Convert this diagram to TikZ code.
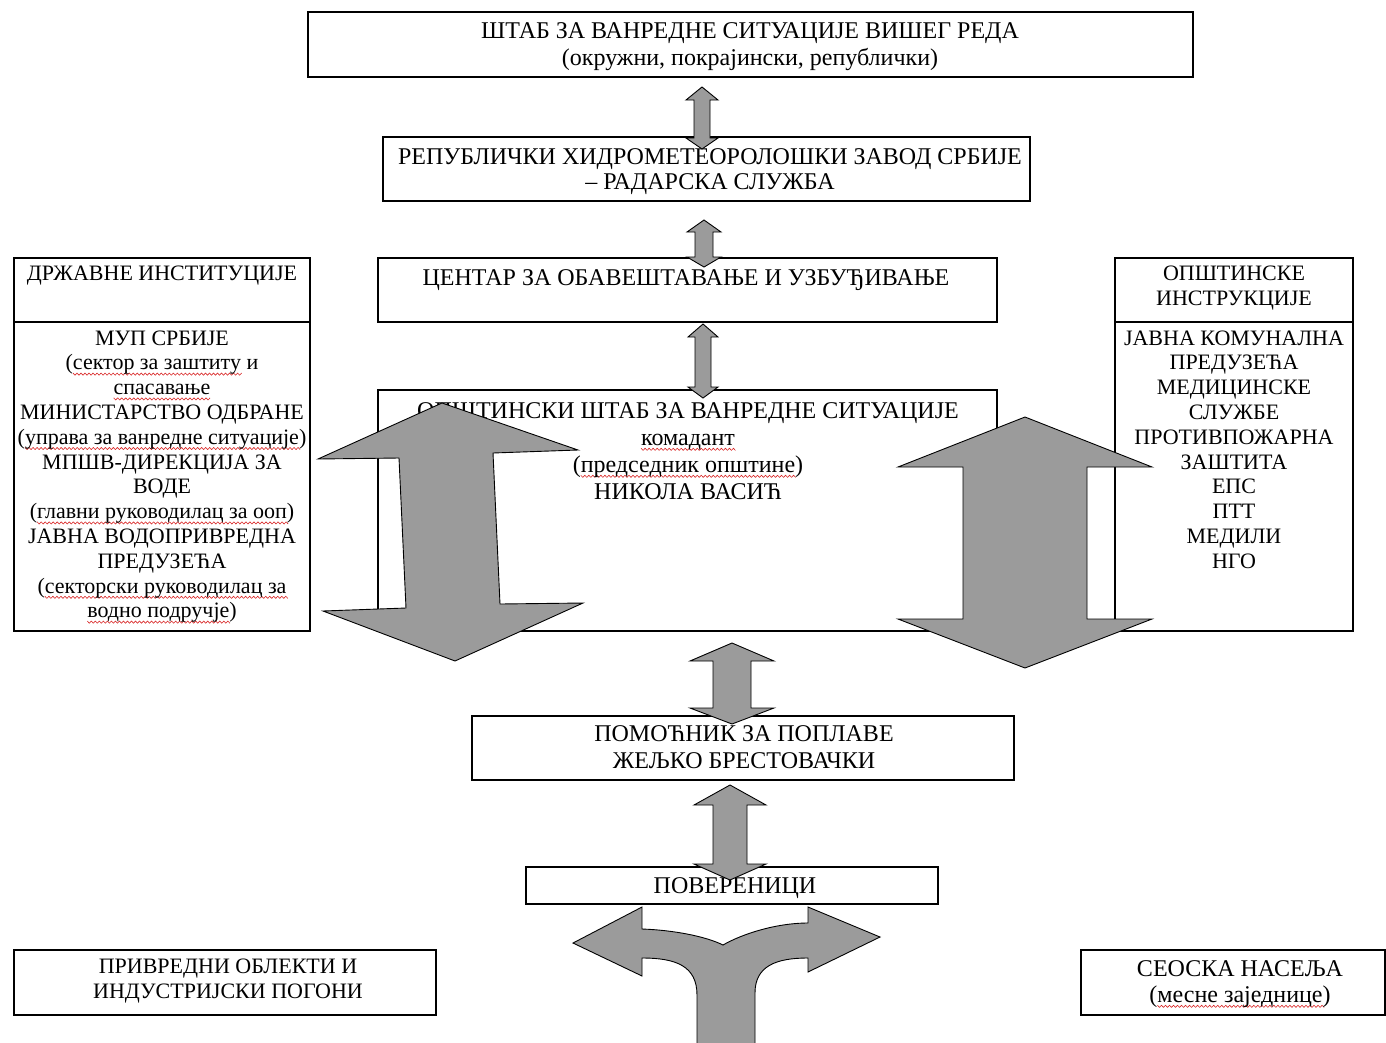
\documentclass[tikz,border=0pt]{standalone}
\usepackage{fontspec}
\setmainfont{Liberation Serif}
\definecolor{arrowgray}{RGB}{155,155,155}
\makeatletter
\newcount\sq@n \newcount\sq@i \newdimen\sq@x
\newcommand\sq[1]{\leavevmode\setbox\z@=\hbox{#1}%
 \sq@n=\numexpr\wd\z@/131072\relax
 \def\sq@path{0 -3.2 m}\sq@x=\z@ \sq@i=\z@
 \loop\ifnum\sq@i<\sq@n \advance\sq@i\@ne \advance\sq@x 2pt
   \edef\sq@path{\sq@path\space\strip@pt\sq@x\space\ifodd\sq@i -5.4\else -3.2\fi\space l}%
 \repeat
 \rlap{\special{pdf:content q 0.85 0.15 0.15 RG 0.6 w 1 j \sq@path\space S Q}}\box\z@\relax}
\makeatother
\newcommand\ml[1]{\begin{tabular}[t]{@{}c@{}}#1\end{tabular}}
\newcommand\vda[7]{%
\draw[blk] (#1,#2) -- ({#1+#4},{#2+#6}) -- ({#1+#5},{#2+#6}) -- ({#1+#5},{#3-#7}) -- ({#1+#4},{#3-#7}) -- (#1,#3) -- ({#1-#4},{#3-#7}) -- ({#1-#5},{#3-#7}) -- ({#1-#5},{#2+#6}) -- ({#1-#4},{#2+#6}) -- cycle;}
\tikzset{
 box/.style={draw=black, line width=1.2pt, inner sep=0pt, outer sep=0pt, anchor=north west},
 txt/.style={inner sep=0pt, anchor=base, font=\fontsize{24}{27}\selectfont},
 stxt/.style={inner sep=0pt, anchor=base, font=\fontsize{22}{24.8}\selectfont},
 blk/.style={draw=black, line width=0.9pt, fill=arrowgray, line join=miter},
}
\begin{document}
\begin{tikzpicture}[x=1pt,y=-1pt]
\useasboundingbox[fill=white] (0,0) rectangle (1386,1042);
% boxes
\node[box, minimum width=885pt, minimum height=65pt] (top) at (308,12) {};
\node[box, minimum width=647pt, minimum height=64pt] (hydro) at (383,137) {};
\node[box, minimum width=619pt, minimum height=64pt] (centar) at (378,258) {};
\node[box, minimum width=619pt, minimum height=241pt] (stab) at (378,390) {};
\node[box, minimum width=296pt, minimum height=373pt] (drz) at (14,258) {};
\node[box, minimum width=238pt, minimum height=373pt] (ops) at (1115,258) {};
\node[box, minimum width=542pt, minimum height=64pt] (pom) at (472,716) {};
\node[box, minimum width=412pt, minimum height=37pt] (pov) at (526,867) {};
\node[box, minimum width=422pt, minimum height=65pt] (priv) at (14,950) {};
\node[box, minimum width=304pt, minimum height=65pt] (seo) at (1081,950) {};
\draw[line width=1.2pt] (14,322) -- (310,322);
\draw[line width=1.2pt] (1115,322) -- (1353,322);
% texts
\node[txt] (toptxt) at (750,38) {\ml{ШТАБ ЗА ВАНРЕДНЕ СИТУАЦИЈЕ ВИШЕГ РЕДА\\(окружни, покрајински, републички)}};
\node[txt] (hydrotxt) at (710,164) {\ml{РЕПУБЛИЧКИ ХИДРОМЕТЕОРОЛОШКИ ЗАВОД СРБИЈЕ\\[-2pt]– РАДАРСКА СЛУЖБА}};
\node[txt] (centartxt) at (686,285) {ЦЕНТАР ЗА ОБАВЕШТАВАЊЕ И УЗБУЂИВАЊЕ};
\node[txt] (stabtxt) at (688,418) {\ml{ОПШТИНСКИ ШТАБ ЗА ВАНРЕДНЕ СИТУАЦИЈЕ\\\sq{комадант}\\(\sq{председник општине})\\НИКОЛА ВАСИЋ}};
\node[stxt] (drztitle) at (162,280) {ДРЖАВНЕ ИНСТИТУЦИЈЕ};
\node[stxt] (drztxt) at (162,345) {\ml{МУП СРБИЈЕ\\(\sq{сектор за заштиту} и\\\sq{спасавање}\\МИНИСТАРСТВО ОДБРАНЕ\\(\sq{управа за ванредне ситуације})\\МПШВ-ДИРЕКЦИЈА ЗА\\ВОДЕ\\(\sq{главни руководилац за ооп})\\ЈАВНА ВОДОПРИВРЕДНА\\ПРЕДУЗЕЋА\\(\sq{секторски руководилац за}\\\sq{водно подручје})}};
\node[stxt] (opstitle) at (1234,280) {\ml{ОПШТИНСКЕ\\[1pt]ИНСТРУКЦИЈЕ}};
\node[stxt] (opstxt) at (1234,345) {\ml{ЈАВНА КОМУНАЛНА\\ПРЕДУЗЕЋА\\МЕДИЦИНСКЕ\\СЛУЖБЕ\\ПРОТИВПОЖАРНА\\ЗАШТИТА\\ЕПС\\ПТТ\\МЕДИЛИ\\НГО}};
\node[txt] (pomtxt) at (744,741) {\ml{ПОМОЋНИК ЗА ПОПЛАВЕ\\ЖЕЉКО БРЕСТОВАЧКИ}};
\node[txt] (povtxt) at (735,893) {ПОВЕРЕНИЦИ};
\node[stxt] (privtxt) at (228,973) {\ml{ПРИВРЕДНИ ОБЛЕКТИ И\\[0.2pt]ИНДУСТРИЈСКИ ПОГОНИ}};
\node[txt] (seotxt) at (1240,976) {\ml{СЕОСКА НАСЕЉА\\[-1pt](\sq{месне заједнице})}};
% arrows
\vda{702}{87}{149}{16}{8}{13}{11}
\vda{704}{220}{267}{17}{9}{12}{10}
\vda{703}{324}{398}{15}{8}{13}{11}
\vda{732}{643}{724}{42}{19}{18}{16}
\vda{730}{785}{880}{36}{17}{20}{16}
\vda{1025}{417}{668}{127}{62}{50}{49}
\draw[blk] (442,403) -- (578,450) -- (493,453) -- (500,604) -- (583,603) -- (455,661)
  -- (323,611) -- (406,608) -- (399,458) -- (318,459) -- cycle;
% split arrow
\draw[blk] (697,1050) -- (697,995) .. controls (697,966) and (676,958) .. (642,958)
  -- (642,976) -- (573,943) -- (642,907) -- (642,929)
  .. controls (672,930) and (705,936) .. (723,945)
  .. controls (742,934) and (776,923) .. (808,923)
  -- (808,907) -- (880,937) -- (808,972) -- (808,958)
  .. controls (776,958) and (755,966) .. (755,993) -- (755,1050) -- cycle;
\end{tikzpicture}
\end{document}
